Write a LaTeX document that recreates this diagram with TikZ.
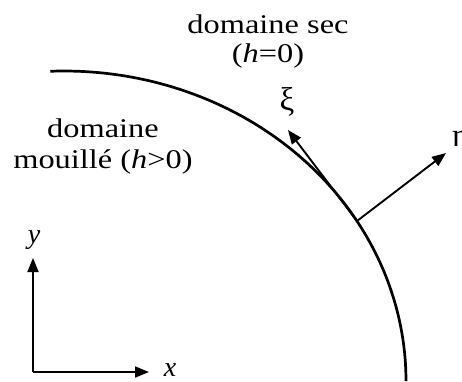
\documentclass[tikz,border=0pt]{standalone}
\usepackage{fontspec}
\setmainfont{Liberation Serif}
\usetikzlibrary{arrows.meta}
\newcommand{\wide}[1]{\scalebox{1.2}[1]{#1}}
\tikzset{
  curve/.style={line width=2.7pt},
  vec/.style={line width=1.9pt, -{Triangle[length=14pt,width=11pt]}},
  lbl/.style={inner sep=0pt, anchor=base, font=\fontsize{27}{30}\selectfont},
  sym/.style={inner sep=0pt, anchor=base, font=\fontsize{28}{30}\selectfont},
  greek/.style={inner sep=0pt, anchor=base, font=\fontsize{33}{36}\selectfont},
}
\begin{document}
\begin{tikzpicture}[x=1pt,y=-1pt]
\useasboundingbox (0,0) rectangle (462,381);
% boundary curve
\draw[curve] plot[domain=-92.3:0, samples=120, smooth] ({64+342*cos(\x)}, {381+310*sin(\x)});
% local frame
\coordinate (P) at (357,221);
\coordinate (xi) at (288,130);
\coordinate (eta) at (446,153);
\draw[vec] (P) -- (xi);
\draw[vec] (P) -- (eta);
\node[greek] (lxi) at (287,110) {ξ};
\node[greek, anchor=base west] (leta) at (452,146) {η};
% axes
\coordinate (O) at (33,372);
\coordinate (Y) at (33,258);
\coordinate (X) at (149,372);
\draw[vec] (O) -- (Y);
\draw[vec] (O) -- (X);
\node[sym] (ly) at (34,243) {\textit{y}};
\node[sym] (lx) at (170,376) {\textit{x}};
% labels
\node[lbl] (sec1) at (268,33) {\wide{domaine sec}};
\node[lbl] (sec2) at (268,62) {\wide{(\textit{h}=0)}};
\node[lbl] (mou1) at (103,137) {\wide{domaine}};
\node[lbl] (mou2) at (103,168) {\wide{mouillé (\textit{h}>0)}};
\end{tikzpicture}
\end{document}
